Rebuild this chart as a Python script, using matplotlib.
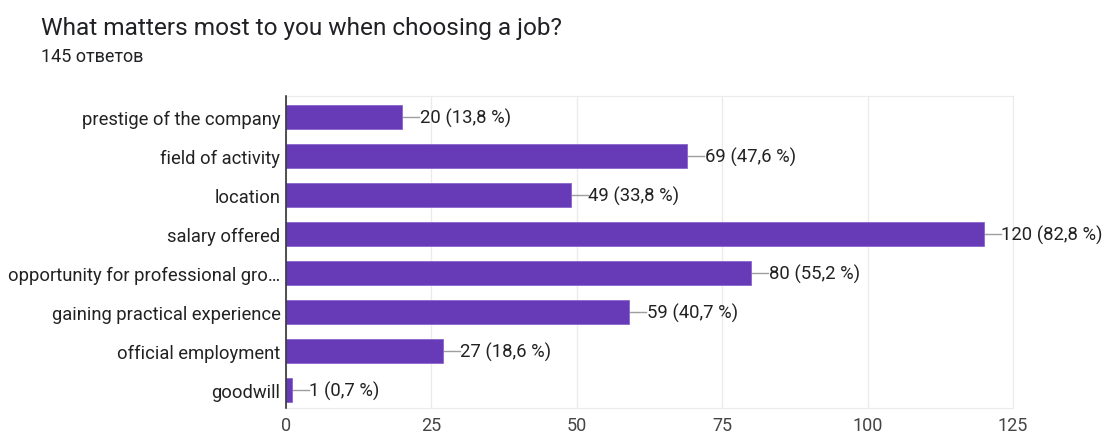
import matplotlib.pyplot as plt

plt.rcParams['font.family'] = ['Roboto', 'DejaVu Sans']

categories = ['prestige of the company', 'field of activity', 'location', 'salary offered',
              'opportunity for professional gro…', 'gaining practical experience',
              'official employment', 'goodwill']
counts = [20, 69, 49, 120, 80, 59, 27, 1]
percents = ['13,8', '47,6', '33,8', '82,8', '55,2', '40,7', '18,6', '0,7']
xticks = [0, 25, 50, 75, 100, 125]

fig = plt.figure(figsize=(11.06, 4.39), dpi=100)
ax = fig.add_axes([0.2586, 0.0683, 0.6573, 0.7107])

ypos = list(range(len(categories)))
ax.barh(ypos, counts, height=0.6, color='#673ab7', edgecolor='#8a66cc', linewidth=0.6, zorder=3)

# leader line + value label
for y, c, p in zip(ypos, counts, percents):
    lead = 2.9
    ax.plot([c, c + lead], [y, y], color='#9e9e9e', lw=1, zorder=2)
    ax.text(c + lead + 0.1, y, f'{c} ({p} %)', va='center', ha='left',
            fontsize=13.3, color='#222222')

ax.set_xlim(0, 125)
ax.set_ylim(7.46, -0.54)
ax.set_xticks(xticks)
ax.set_xticklabels([str(t) for t in xticks], fontsize=13, color='#444444')
ax.set_yticks(ypos)
ax.set_yticklabels(categories, fontsize=13.2, color='#222222')
ax.tick_params(length=0, pad=4)
ax.tick_params(axis='x', pad=6)

ax.grid(axis='x', color='#ebebeb', lw=1, zorder=0)
for s in ['top', 'right', 'bottom']:
    ax.spines[s].set_color('#ebebeb')
ax.spines['left'].set_color('#333333')
ax.spines['left'].set_linewidth(1.2)
ax.spines['left'].set_zorder(4)

fig.text(41 / 1106, 1 - 28 / 439, 'What matters most to you when choosing a job?',
         fontsize=17.6, color='#202124', va='center', ha='left')
fig.text(41 / 1106, 1 - 57 / 439, '145 ответов', fontsize=13, color='#202124',
         va='center', ha='left')

fig.savefig('out.png', dpi=100)
